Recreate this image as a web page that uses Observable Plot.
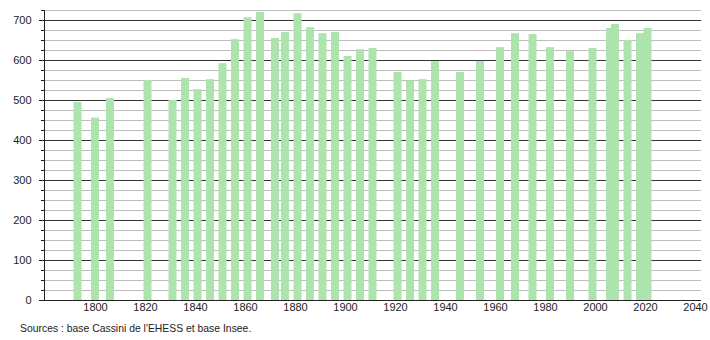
<!DOCTYPE html>
<html>
<head>
<meta charset="utf-8">
<script src="https://cdn.jsdelivr.net/npm/d3@7"></script>
<script src="https://cdn.jsdelivr.net/npm/@observablehq/plot@0.6"></script>
<style>
  html, body { margin: 0; padding: 0; background: #fff; }
  #caption { font: 10.4px "Liberation Sans", Arial, sans-serif; color: #222; height: 22px; line-height: 22px; padding-left: 20px; }
</style>
</head>
<body>
<div id="chart"></div>
<div id="caption">Sources : base Cassini de l'EHESS et base Insee.</div>
<script>
const years = [1793, 1800, 1806, 1821, 1831, 1836, 1841, 1846, 1851, 1856, 1861, 1866, 1872, 1876, 1881, 1886, 1891, 1896, 1901, 1906, 1911, 1921, 1926, 1931, 1936, 1946, 1954, 1962, 1968, 1975, 1982, 1990, 1999, 2006, 2008, 2013, 2018, 2021];
const population = [495, 456, 505, 550, 500, 555, 527, 552, 592, 652, 707, 720, 655, 670, 717, 682, 667, 670, 610, 627, 630, 570, 549, 552, 597, 570, 597, 632, 667, 665, 632, 622, 630, 680, 690, 650, 667, 680];
const xTicks = [1800, 1820, 1840, 1860, 1880, 1900, 1920, 1940, 1960, 1980, 2000, 2020, 2040];
const yMajorTicks = [0, 100, 200, 300, 400, 500, 600, 700];
const yMinorTicks = [25, 50, 75, 125, 150, 175, 225, 250, 275, 325, 350, 375, 425, 450, 475, 525, 550, 575, 625, 650, 675, 725];

const data = years.map((year, i) => ({year, pop: population[i]}));
const halfBar = 1.6;
const xMin = 1779.6, xMax = 2042.4;

const chart = Plot.plot({
  width: 710,
  height: 318,
  marginLeft: 44,
  marginRight: 9,
  marginTop: 10,
  marginBottom: 18,
  style: {fontFamily: "'Liberation Sans', Arial, sans-serif", fontSize: "11px", color: "#222", background: "#fff"},
  x: {domain: [xMin, xMax]},
  y: {domain: [0, 725]},
  marks: [
    Plot.ruleY(yMinorTicks, {stroke: "#bdbdbd", strokeWidth: 1}),
    Plot.ruleY(yMajorTicks, {stroke: "#333", strokeWidth: 1}),
    Plot.rectY(data, {x1: d => d.year - halfBar, x2: d => d.year + halfBar, y: "pop", fill: "#ade3ad"}),
    Plot.ruleY([0], {stroke: "#222", strokeWidth: 1}),
    Plot.ruleX([xMin], {y1: 0, y2: 725, stroke: "#222", strokeWidth: 1}),
    Plot.axisY(yMajorTicks, {tickSize: 5, tickPadding: 8, label: null, stroke: "#222"}),
    Plot.axisY(yMinorTicks, {tickSize: 3, text: null, label: null, stroke: "#222"}),
    Plot.axisX(xTicks, {tickSize: 0, tickPadding: 3, label: null, tickFormat: d => String(d)})
  ]
});
document.getElementById("chart").appendChild(chart);
</script>
</body>
</html>
